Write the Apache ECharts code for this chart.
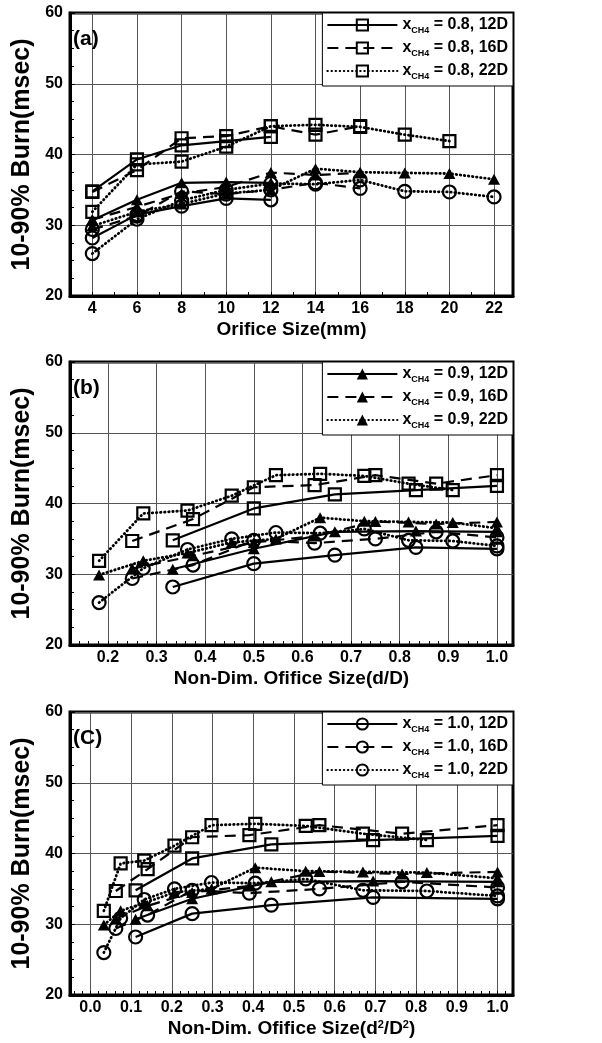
<!DOCTYPE html>
<html><head><meta charset="utf-8">
<script src="https://cdn.jsdelivr.net/npm/echarts@6/dist/echarts.min.js"></script>
<style>html,body{margin:0;padding:0;background:#fff}#c{width:602px;height:1043px}</style>
</head><body><div id="c"></div>
<script>
// ---- data (burn time 10-90%, msec) ----
const tubeD = [12, 16, 22];
const orifice12 = [4, 6, 8, 10, 12];
const orifice16 = [4, 6, 8, 10, 12, 14, 16];
const orifice22 = [4, 6, 8, 10, 12, 14, 16, 18, 20, 22];
// x_CH4 = 0.8 (squares)
const sq12 = [34.8, 39.3, 41.3, 41.9, 42.5];
const sq16 = [34.7, 37.8, 42.3, 42.6, 44.0, 42.8, 44.0];
const sq22 = [31.9, 38.6, 39.0, 41.1, 44.0, 44.2, 43.9, 42.8, 41.9];
// x_CH4 = 0.9 (triangles)
const tri12 = [30.7, 33.6, 36.0, 36.1, 36.0];
const tri16 = [30.8, 32.6, 34.5, 35.4, 37.45, 37.1, 37.4];
const tri22 = [29.9, 31.9, 33.0, 34.5, 35.0, 38.0, 37.5, 37.4, 37.3, 36.5];
// x_CH4 = 1.0 (circles)
const cir12 = [28.2, 31.5, 32.7, 33.8, 33.6];
const cir16 = [29.4, 31.3, 34.8, 34.4, 35.0, 36.0, 35.2];
const cir22 = [26.0, 30.85, 33.5, 35.0, 35.9, 35.8, 36.4, 34.8, 34.7, 34.0];
// tick labels
const xTicksA = [4, 6, 8, 10, 12, 14, 16, 18, 20, 22];
const xTicksB = [0.2, 0.3, 0.4, 0.5, 0.6, 0.7, 0.8, 0.9, 1.0];
const xTicksC = [0.0, 0.1, 0.2, 0.3, 0.4, 0.5, 0.6, 0.7, 0.8, 0.9, 1.0];
const panelLabels = ['(a)', '(b)', '(C)'];
const xTitles = ['Orifice Size(mm)', 'Non-Dim. Ofifice Size(d/D)', 'Non-Dim. Ofifice Size(d{sup|2}/D{sup|2})'];
const yTitle = '10-90% Burn(msec)';
const groups = [
  {key: 'sq', xch4: '0.8', symbol: 'rect', vals: [sq12, sq16, sq22], filled: false},
  {key: 'tri', xch4: '0.9', symbol: 'triangle', vals: [tri12, tri16, tri22], filled: true},
  {key: 'cir', xch4: '1.0', symbol: 'circle', vals: [cir12, cir16, cir22], filled: false}
];
const orifices = [orifice12, orifice16, orifice22];

// ---- layout ----
const FONT = 'Liberation Sans';
const gridTops = [13, 362, 712];
const gridLeft = 70, gridW = 443, gridH = 283;
const xRanges = [[3, 22.85], [0.122, 1.033], [-0.05, 1.038]];
const lineTypes = ['solid', [11, 7], [0.5, 3.6]];
const lineWidths = [2.2, 2.2, 2.8];
const symSizes = {rect: 12, triangle: [12, 11], circle: 13};

function xOf(p, d, D) {
  if (p === 0) return d;
  if (p === 1) return d / D;
  return (d / D) * (d / D);
}

const grids = [], xAxes = [], yAxes = [], series = [], legends = [], graphics = [];
for (let p = 0; p < 3; p++) {
  grids.push({left: gridLeft, top: gridTops[p], width: gridW, height: gridH, show: true,
    borderColor: '#000', borderWidth: 3, backgroundColor: 'transparent', z: 0});
  const ticks = [xTicksA, xTicksB, xTicksC][p];
  const minor = [];
  const step = p === 0 ? 1 : 0.02;
  for (let v = Math.ceil(xRanges[p][0] / step) * step; v < xRanges[p][1]; v += step) minor.push(+v.toFixed(3));
  xAxes.push({
    type: 'value', gridIndex: p, min: xRanges[p][0], max: xRanges[p][1],
    axisLine: {show: true, onZero: false, lineStyle: {color: '#000', width: 3}},
    axisTick: {show: false, customValues: ticks},
    axisLabel: {customValues: ticks, color: '#000', fontFamily: FONT, fontWeight: 'bold', fontSize: 16, margin: 5,
      formatter: v => p === 0 ? String(v) : v.toFixed(1)},
    splitLine: {show: true, lineStyle: {color: '#555', width: 1}},
    name: xTitles[p], nameLocation: 'middle', nameGap: 24,
    nameTextStyle: {color: '#000', fontFamily: FONT, fontWeight: 'bold', fontSize: 19,
      rich: {sup: {fontSize: 11, fontWeight: 'bold', fontFamily: FONT, verticalAlign: 'top', padding: [0, 0, 8, 0]}}}
  });
  // minor ticks axis
  xAxes.push({
    type: 'value', gridIndex: p, min: xRanges[p][0], max: xRanges[p][1], position: 'bottom',
    axisLine: {show: false, onZero: false},
    axisTick: {show: true, inside: true, length: 4, customValues: minor, lineStyle: {color: '#000', width: 1}},
    axisLabel: {show: false}, splitLine: {show: false}
  });
  yAxes.push({
    type: 'value', gridIndex: p, min: 20, max: 60, interval: 10,
    axisLine: {show: true, onZero: false, lineStyle: {color: '#000', width: 3}},
    axisTick: {show: true, inside: true, length: 5, lineStyle: {color: '#000'}},
    minorTick: {show: true, splitNumber: 4, length: 4, lineStyle: {color: '#000', width: 1}},
    axisLabel: {color: '#000', fontFamily: FONT, fontWeight: 'bold', fontSize: 16, margin: 7},
    splitLine: {show: true, lineStyle: {color: '#555', width: 1}},
    name: yTitle, nameLocation: 'middle', nameGap: 27, nameRotate: 90,
    nameTextStyle: {color: '#000', fontFamily: FONT, fontWeight: 'bold', fontSize: 25}
  });
  const legendNames = [];
  groups.forEach((g, gi) => {
    for (let k = 0; k < 3; k++) {
      const D = tubeD[k];
      const vals = g.vals[k];
      const data = vals.map((v, i) => [xOf(p, orifices[k][i], D), v]);
      const name = p + '|' + g.key + '|' + k;
      if (gi === p) legendNames.push(name);
      series.push({
        type: 'line', name: name, xAxisIndex: p * 2, yAxisIndex: p, data: data,
        symbol: g.symbol, symbolSize: symSizes[g.symbol],
        showAllSymbol: true, animation: false,
        lineStyle: {color: '#000', width: lineWidths[k], type: lineTypes[k], cap: k === 2 ? 'round' : 'butt'},
        itemStyle: {color: g.filled ? '#000' : 'rgba(0,0,0,0)', borderColor: '#000', borderWidth: g.filled ? 0 : 2.2},
        emphasis: {disabled: true}, z: 3
      });
    }
  });
  const gx = groups[p];
  legends.push({
    data: legendNames, orient: 'vertical', right: 602 - (gridLeft + gridW), top: gridTops[p],
    backgroundColor: '#fff', borderColor: '#000', borderWidth: 1, borderRadius: 0,
    padding: [4, 5, 5, 4], itemWidth: 70, itemHeight: 14, itemGap: 5, selectedMode: false, z: 10,
    formatter: n => {
      const k = +n.split('|')[2];
      return '{x|x}{s|CH4}{t| = ' + gx.xch4 + ', ' + tubeD[k] + 'D}';
    },
    textStyle: {color: '#000', fontFamily: FONT, fontWeight: 'bold', fontSize: 16,
      rich: {
        x: {fontFamily: FONT, fontWeight: 'bold', fontSize: 16, lineHeight: 20, verticalAlign: 'middle'},
        s: {fontFamily: FONT, fontWeight: 'bold', fontSize: 9, lineHeight: 20, verticalAlign: 'bottom'},
        t: {fontFamily: FONT, fontWeight: 'bold', fontSize: 16, lineHeight: 20, verticalAlign: 'middle'}
      }}
  });
  graphics.push({type: 'text', left: gridLeft + 3, top: gridTops[p] + 16, z: 20,
    style: {text: panelLabels[p], font: 'bold 21px ' + FONT, fill: '#000'}});
}

const chart = echarts.init(document.getElementById('c'), null, {renderer: 'canvas'});
chart.setOption({
  animation: false, backgroundColor: '#fff',
  grid: grids, xAxis: xAxes, yAxis: yAxes, series: series, legend: legends, graphic: graphics
});
</script></body></html>
